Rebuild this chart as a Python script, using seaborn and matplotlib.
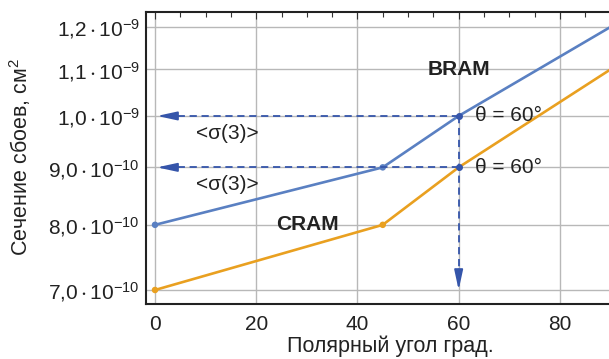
import numpy as np
import pandas as pd
import matplotlib
matplotlib.use("Agg")
import matplotlib.pyplot as plt
import matplotlib.ticker as mticker
import seaborn as sns

# ---- data ----
angles = [0, 45, 60, 90]
bram = [8.0e-10, 9.0e-10, 1.0e-9, 1.2e-9]
cram = [7.0e-10, 8.0e-10, 9.0e-10, 1.1e-9]
series_names = ["BRAM", "CRAM"]
x_ticks = [0, 20, 40, 60, 80]
y_ticks = [7.0e-10, 8.0e-10, 9.0e-10, 1.0e-9, 1.1e-9, 1.2e-9]
y_tick_labels = [r"$\mathregular{7{,}0\,{\cdot}\,10^{-10}}$", r"$\mathregular{8{,}0\,{\cdot}\,10^{-10}}$",
                 r"$\mathregular{9{,}0\,{\cdot}\,10^{-10}}$", r"$\mathregular{1{,}0\,{\cdot}\,10^{-9}}$",
                 r"$\mathregular{1{,}1\,{\cdot}\,10^{-9}}$", r"$\mathregular{1{,}2\,{\cdot}\,10^{-9}}$"]
sigma_label = "<σ(3)>"
theta_label = "θ = 60°"
x_label = "Полярный угол град."
y_label = "Сечение сбоев, см$^{2}$"

df = pd.DataFrame({
    "angle": angles * 2,
    "value": bram + cram,
    "series": [series_names[0]] * len(angles) + [series_names[1]] * len(angles),
})
marked = df[df["angle"].isin([0, 45])]

sns.set_style("white")
plt.rcParams["font.family"] = ["Liberation Sans", "DejaVu Sans"]
plt.rcParams["mathtext.default"] = "regular"

blue = "#5a80c2"
orange = "#e9a020"
dash_blue = "#3555aa"
palette = {"BRAM": blue, "CRAM": orange}

fig = plt.figure(figsize=(6.09, 3.59), dpi=100)
ax = fig.add_axes([146 / 609, 55 / 359, (612 - 146) / 609, 292 / 359])

ax.set_yscale("log")
ax.set_xlim(-1.78, 90.3)
ax.set_ylim(6.802e-10, 1.2374e-9)

# grid
for xv in x_ticks:
    ax.axvline(xv, color="#b8b8b8", lw=1.0, zorder=0)
for yv in y_ticks:
    ax.axhline(yv, color="#b8b8b8", lw=1.0, zorder=0)

sns.lineplot(data=df, x="angle", y="value", hue="series", palette=palette,
             lw=1.9, ax=ax, legend=False, zorder=3)
sns.scatterplot(data=marked, x="angle", y="value", hue="series", palette=palette,
                s=22, edgecolor="none", ax=ax, legend=False, zorder=4)

# dashed guide lines with arrows
dash = (0, (4.0, 2.6))
x_tip = 0.4
for yv in (bram[2], cram[2]):
    ax.plot([angles[2], x_tip + 2.5], [yv, yv], ls=dash, color=dash_blue, lw=1.3, zorder=5)
    ax.annotate("", xy=(x_tip, yv), xytext=(x_tip + 3.0, yv),
                arrowprops=dict(arrowstyle="-|>,head_length=0.6,head_width=0.13",
                                color=dash_blue, lw=1.3, shrinkA=0, shrinkB=0,
                                mutation_scale=20), zorder=5)
y_tip = 7.0e-10
ax.plot([angles[2], angles[2]], [bram[2], 7.25e-10], ls=dash, color=dash_blue, lw=1.3, zorder=5)
ax.annotate("", xy=(angles[2], y_tip), xytext=(angles[2], 7.3e-10),
            arrowprops=dict(arrowstyle="-|>,head_length=0.6,head_width=0.13",
                            color=dash_blue, lw=1.3, shrinkA=0, shrinkB=0,
                            mutation_scale=20), zorder=5)
ax.plot([angles[2], angles[2]], [bram[2], cram[2]], "o", color=dash_blue, ms=4, zorder=6)

# texts
fs = 15
ax.text(14.2, 0.9637e-9, sigma_label, fontsize=fs, ha="center", va="center", color="#222222")
ax.text(14.2, 0.869e-9, sigma_label, fontsize=fs, ha="center", va="center", color="#222222")
ax.text(63.2, bram[2], theta_label, fontsize=fs, ha="left", va="center", color="#222222")
ax.text(63.2, cram[2], theta_label, fontsize=fs, ha="left", va="center", color="#222222")
ax.text(60.0, 1.1e-9, "BRAM", fontsize=15, fontweight="bold", ha="center", va="center", color="#222222")
ax.text(30.2, 8.0e-10, "CRAM", fontsize=15, fontweight="bold", ha="center", va="center", color="#222222")

# ticks
ax.yaxis.set_major_locator(mticker.FixedLocator(y_ticks))
ax.yaxis.set_major_formatter(mticker.FixedFormatter(y_tick_labels))
minor_y = [v * 1e-11 for v in range(68, 125, 2) if v % 10 != 0]
ax.yaxis.set_minor_locator(mticker.FixedLocator(minor_y))
ax.yaxis.set_minor_formatter(mticker.NullFormatter())
ax.xaxis.set_major_locator(mticker.FixedLocator(x_ticks))
ax.xaxis.set_minor_locator(mticker.MultipleLocator(5))

ax.tick_params(axis="both", which="both", direction="in", top=True, right=False,
               colors="#333333", labelcolor="#222222", labelsize=fs)
ax.tick_params(axis="both", which="major", length=5, width=0.8)
ax.tick_params(axis="both", which="minor", length=3.5, width=0.8)
ax.tick_params(axis="x", which="major", pad=8)
ax.tick_params(axis="y", which="major", pad=4.5)

for sp in ax.spines.values():
    sp.set_color("#222222")
    sp.set_linewidth(1.5)

ax.set_xlabel(x_label, fontsize=15.5, color="#222222")
ax.set_ylabel(y_label, fontsize=15.5, color="#222222")
ax.xaxis.set_label_coords((390 - 146) / 466, -0.146)
ax.xaxis.label.set_va("center")
ax.yaxis.set_label_coords((20 - 146) / 466, 0.503)
ax.yaxis.label.set_va("center")

fig.savefig("out.png", dpi=100)
